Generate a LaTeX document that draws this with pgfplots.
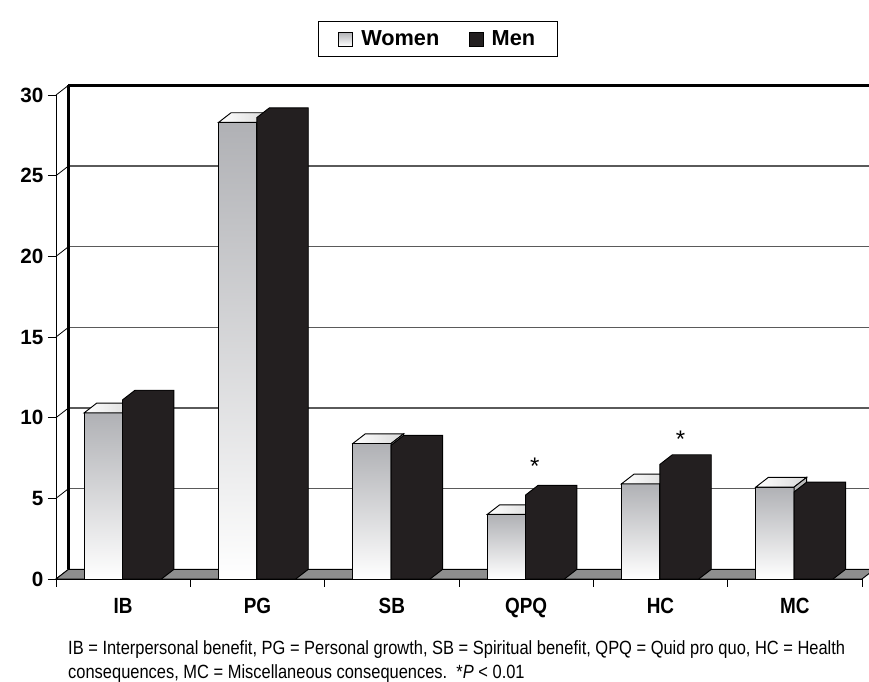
\documentclass[border=0pt]{standalone}
\usepackage{pgfplots}
\pgfplotsset{compat=1.18}
\usepackage{pgfplotstable}
\usepackage{fontspec}
\setmainfont{Liberation Sans}
\newfontfamily\narrowfont[FakeStretch=0.86]{Liberation Sans}
\definecolor{menc}{HTML}{231F20}
\definecolor{wtop}{RGB}{176,177,181}
\definecolor{gridc}{HTML}{5A5A5A}
\definecolor{floorc}{HTML}{8E8E8E}

\pgfplotstableread{
cat women men
IB 10.3 11.1
PG 28.3 28.6
SB 8.4 8.3
QPQ 4.0 5.2
HC 5.9 7.1
MC 5.7 5.4
}\datatable

\def\depx{0.093}
\def\depy{0.6}

\tikzset{
 womenfront/.style={draw=black, line width=0.7pt, top color=wtop, bottom color=white},
 womentopface/.style={draw=black, line width=0.7pt, left color=white, right color=gray!30},
 womenside/.style={draw=black, line width=0.7pt, fill=gray!55},
 menbar/.style={draw=black, line width=0.7pt, fill=menc},
}

\begin{document}
\begin{tikzpicture}
\begin{axis}[
 at={(0pt,0pt)}, anchor=south west,
 scale only axis, width=604.5pt, height=363pt,
 xmin=0, xmax=6, ymin=0, ymax=30,
 clip=false,
 axis lines*=left,
 axis line style={line width=0.7pt},
 tick align=outside, major tick length=6pt,
 tick style={black, line width=0.7pt},
 ytick={0,5,...,30},
 xtick={0,...,6}, xticklabels={},
 /pgf/number format/assume math mode=true,
 yticklabel style={font=\fontsize{15.5}{18}\selectfont\bfseries},
 legend style={at={(axis cs:2.844,33.47)}, anchor=center, legend columns=2,
   draw=black, line width=0.8pt, font=\fontsize{16.3}{19}\selectfont\bfseries,
   inner xsep=15pt, inner ysep=4.5pt,
   /tikz/every even column/.append style={column sep=20pt}},
 legend image code/.code={\draw[#1, line width=0.6pt] (0pt,-5.25pt) rectangle (10.5pt,5.25pt); \path[draw=none, fill=none, shade=none] (0pt,0pt) -- (15pt,0pt);},
]
\addlegendimage{top color=wtop, bottom color=white, draw=black}
\addlegendentry{Women}
\addlegendimage{fill=menc, draw=black}
\addlegendentry{Men}

% back wall
\draw[gridc, line width=1pt] (axis cs:0.093,5.6) -- (axis cs:6.093,5.6);
\draw[gridc, line width=1pt] (axis cs:0.093,10.6) -- (axis cs:6.093,10.6);
\draw[gridc, line width=1pt] (axis cs:0.093,15.6) -- (axis cs:6.093,15.6);
\draw[gridc, line width=1pt] (axis cs:0.093,20.6) -- (axis cs:6.093,20.6);
\draw[gridc, line width=1pt] (axis cs:0.093,25.6) -- (axis cs:6.093,25.6);
\draw[black, line width=2pt] (axis cs:0.093,30.6) -- (axis cs:6.093,30.6);
\draw[black, line width=1.6pt] (axis cs:0.093,0.6) -- (axis cs:0.093,30.6);
% side wall diagonals
\draw[black, line width=0.6pt] (axis cs:0,0) -- (axis cs:0.093,0.6);
\draw[black, line width=0.6pt] (axis cs:0,5) -- (axis cs:0.093,5.6);
\draw[black, line width=0.6pt] (axis cs:0,10) -- (axis cs:0.093,10.6);
\draw[black, line width=0.6pt] (axis cs:0,15) -- (axis cs:0.093,15.6);
\draw[black, line width=0.6pt] (axis cs:0,20) -- (axis cs:0.093,20.6);
\draw[black, line width=0.6pt] (axis cs:0,25) -- (axis cs:0.093,25.6);
\draw[black, line width=0.6pt] (axis cs:0,30) -- (axis cs:0.093,30.6);
% floor
\draw[black, line width=0.7pt, fill=floorc] (axis cs:0,0) -- (axis cs:6,0) -- (axis cs:6.093,0.6) -- (axis cs:0.093,0.6) -- cycle;

% bars
\pgfplotsinvokeforeach{0,...,5}{
 \pgfplotstablegetelem{#1}{women}\of\datatable \edef\valw{\pgfplotsretval}
 \pgfplotstablegetelem{#1}{men}\of\datatable \edef\valm{\pgfplotsretval}
 \pgfmathsetmacro\xxa{#1+0.21}
 \pgfmathsetmacro\xxad{#1+0.21+\depx}
 \pgfmathsetmacro\xxb{#1+0.495}
 \pgfmathsetmacro\xxbd{#1+0.495+\depx}
 \pgfmathsetmacro\xxc{#1+0.785}
 \pgfmathsetmacro\xxcd{#1+0.785+\depx}
 \pgfmathsetmacro\valwd{\valw+\depy}
 \pgfmathsetmacro\valmd{\valm+\depy}
 \edef\temp{%
  \noexpand\addplot[womenfront] coordinates {(\xxa,0) (\xxb,0) (\xxb,\valw) (\xxa,\valw)} -- cycle;
  \noexpand\addplot[womentopface] coordinates {(\xxa,\valw) (\xxb,\valw) (\xxbd,\valwd) (\xxad,\valwd)} -- cycle;
  \noexpand\addplot[womenside] coordinates {(\xxb,0) (\xxbd,\depy) (\xxbd,\valwd) (\xxb,\valw)} -- cycle;
  \noexpand\addplot[menbar] coordinates {(\xxb,0) (\xxc,0) (\xxcd,\depy) (\xxcd,\valmd) (\xxbd,\valmd) (\xxb,\valm)} -- cycle;
 }
 \temp
}

% significance marks
\node[anchor=base, font=\fontsize{18}{20}\selectfont] at (axis cs:3.564,6.48) {*};
\node[anchor=base, font=\fontsize{18}{20}\selectfont] at (axis cs:4.65,8.15) {*};

% category labels
\node[anchor=base, font=\narrowfont\fontsize{16.5}{19}\selectfont\bfseries] at (axis cs:0.5,-2.11) {IB};
\node[anchor=base, font=\narrowfont\fontsize{16.5}{19}\selectfont\bfseries] at (axis cs:1.5,-2.11) {PG};
\node[anchor=base, font=\narrowfont\fontsize{16.5}{19}\selectfont\bfseries] at (axis cs:2.5,-2.11) {SB};
\node[anchor=base, font=\narrowfont\fontsize{16.5}{19}\selectfont\bfseries] at (axis cs:3.5,-2.11) {QPQ};
\node[anchor=base, font=\narrowfont\fontsize{16.5}{19}\selectfont\bfseries] at (axis cs:4.5,-2.11) {HC};
\node[anchor=base, font=\narrowfont\fontsize{16.5}{19}\selectfont\bfseries] at (axis cs:5.5,-2.11) {MC};

% caption
\node[anchor=base west, inner sep=0pt, font=\narrowfont\fontsize{14.35}{17}\selectfont] at (axis cs:0.089,-4.68) {IB = Interpersonal benefit, PG = Personal growth, SB = Spiritual benefit, QPQ = Quid pro quo, HC = Health};
\node[anchor=base west, inner sep=0pt, font=\narrowfont\fontsize{14.35}{17}\selectfont] at (axis cs:0.089,-6.17) {consequences, MC = Miscellaneous consequences.\ \ *\textit{P} < 0.01};
\end{axis}
\pgfresetboundingbox
\path[use as bounding box] (-42pt,-77.25pt) rectangle (609.75pt,434.25pt);
\end{tikzpicture}
\end{document}
